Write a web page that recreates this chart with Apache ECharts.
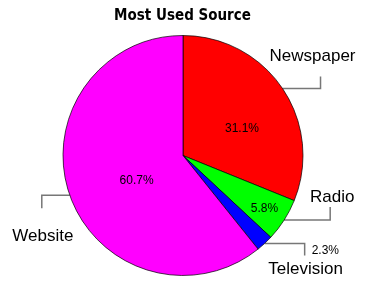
<!DOCTYPE html>
<html><head><meta charset="utf-8">
<script src="https://cdn.jsdelivr.net/npm/echarts@6/dist/echarts.min.js"></script>
<style>html,body{margin:0;padding:0;background:#fff}#c{width:365px;height:291px}</style>
</head><body><div id="c"></div>
<script>
const chartTitle = 'Most Used Source';
const categories = ['Newspaper', 'Radio', 'Television', 'Website'];
const shares = [31.1, 5.8, 2.3, 60.7];
const shareLabels = ['31.1%', '5.8%', '2.3%', '60.7%'];
const colors = ['#ff0000', '#00ff00', '#0000ff', '#ff00ff'];

// layout (pixels)
const CX = 183, CY = 155.5, R = 120;
const elbow = [[38, -12], [46, -13], [40, 12], [-28, 13]];
const nameOff = [[-8, -20], [2, -10], [1, 14], [1, 28]];
const pctPolar = [[64.7, 9.8], [97, 0.4], null, [52.6, -8.8]];
const pctTvOff = [7, -5];

const total = shares.reduce((a, b) => a + b, 0);
const midAng = [];
let acc = 0;
shares.forEach(v => { midAng.push((acc + v / 2) / total * 2 * Math.PI); acc += v; });
function edge(i) {
  return [CX + R * Math.sin(midAng[i]), CY - R * Math.cos(midAng[i])];
}
function elbowPts(i) {
  const s = edge(i);
  const e1 = [s[0] + elbow[i][0], s[1]];
  const e2 = [e1[0], s[1] + elbow[i][1]];
  return [s, e1, e2];
}

const data = categories.map((c, i) => ({ name: c, value: shares[i], itemStyle: { color: colors[i] } }));
const FONT = '"Liberation Sans", Arial, sans-serif';

const chart = echarts.init(document.getElementById('c'), null, { renderer: 'canvas' });
chart.setOption({
  animation: false,
  backgroundColor: '#fff',
  title: {
    text: chartTitle, left: 'center', top: 0, padding: [9, 0, 0, 11],
    textStyle: { fontFamily: '"Liberation Sans Narrow", "DejaVu Sans Condensed", sans-serif', fontWeight: 'bold', fontSize: 15, color: '#000' }
  },
  series: [
    {
      type: 'pie', center: [CX, CY], radius: R, startAngle: 90, clockwise: true,
      avoidLabelOverlap: false, silent: true,
      itemStyle: { borderColor: '#000', borderWidth: 0.7 },
      emphasis: { disabled: true },
      data: data,
      label: {
        show: true, position: 'inside', color: '#000', fontSize: 12, fontFamily: FONT,
        formatter: p => shareLabels[p.dataIndex]
      },
      labelLine: { show: false },
      labelLayout: function (p) {
        const i = p.dataIndex;
        if (pctPolar[i]) {
          const a = midAng[i] + pctPolar[i][1] * Math.PI / 180;
          return { x: CX + pctPolar[i][0] * Math.sin(a), y: CY - pctPolar[i][0] * Math.cos(a), align: 'center', verticalAlign: 'middle' };
        }
        const pts = elbowPts(i);
        return { x: pts[2][0] + pctTvOff[0], y: pts[2][1] + pctTvOff[1], align: 'left', verticalAlign: 'middle' };
      }
    },
    {
      type: 'pie', center: [CX, CY], radius: R, startAngle: 90, clockwise: true,
      avoidLabelOverlap: false, silent: true,
      itemStyle: { color: 'rgba(0,0,0,0)', borderWidth: 0 },
      emphasis: { disabled: true },
      data: categories.map((c, i) => ({ name: c, value: shares[i] })),
      label: { show: true, position: 'outside', color: '#000', fontSize: 17, fontFamily: FONT, formatter: '{b}' },
      labelLine: { show: true, lineStyle: { color: '#777', width: 1.5 } },
      labelLayout: function (p) {
        const i = p.dataIndex;
        const pts = elbowPts(i);
        return {
          x: pts[2][0] + nameOff[i][0], y: pts[2][1] + nameOff[i][1],
          align: 'center', verticalAlign: 'middle',
          labelLinePoints: pts
        };
      }
    }
  ]
});
</script></body></html>
